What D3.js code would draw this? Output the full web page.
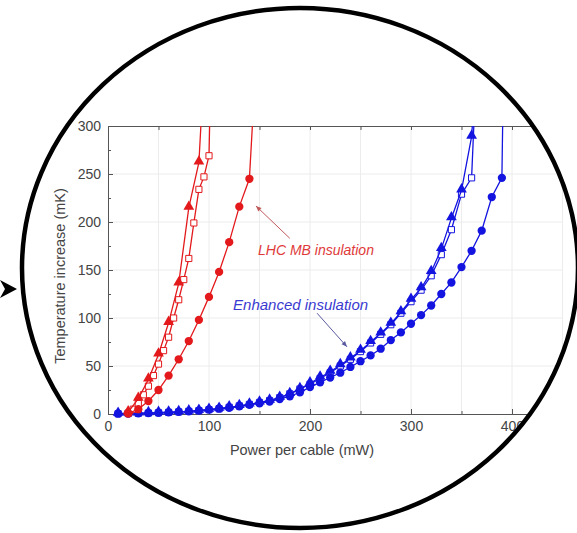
<!DOCTYPE html>
<html>
<head>
<meta charset="utf-8">
<script src="https://d3js.org/d3.v7.min.js"></script>
<style>
body { margin: 0; background: #fff; }
svg { display: block; font-family: "Liberation Sans", Arial, sans-serif; }
.axis path, .axis line { stroke: #555; }
.axis text { fill: #444; font-size: 14px; font-family: "Liberation Sans", Arial, sans-serif; }
.grid line { stroke: #ececec; }
.title { fill: #444; font-size: 14.5px; }
</style>
</head>
<body>
<script>

// LHC MB insulation (red)
var redTriX = [20, 30, 40, 50, 60, 70, 80, 90, 93];
var redTriY = [2, 16, 36, 62, 95, 136, 215, 262, 320];
var redSqX = [20, 25, 30, 35, 40, 45, 50, 55, 60, 65, 70, 75, 80, 85, 90, 95, 100, 101];
var redSqY = [1, 5, 11, 20, 29, 40, 52, 66, 80, 100, 119, 140, 162, 199, 234, 247, 269, 320];
var redCirX = [20, 30, 40, 50, 60, 70, 80, 90, 100, 110, 120, 130, 140, 144];
var redCirY = [0.5, 5, 13.5, 25, 40, 57, 76, 98, 122, 148, 179, 216, 245, 320];

// Enhanced insulation (blue)
var blueTriX = [10, 20, 30, 40, 50, 60, 70, 80, 90, 100, 110, 120, 130, 140, 150, 160, 170, 180, 190,
  200, 210, 220, 230, 240, 250, 260, 270, 280, 290, 300, 310, 320, 330, 340, 350, 360, 362];
var blueTriY = [0.3, 0.5, 0.7, 1, 1.3, 1.7, 2.2, 2.8, 3.5, 4.5, 5.5, 7, 8.5, 10, 12, 14, 17, 21, 26,
  32, 38, 44, 51, 58, 66, 75, 84, 94, 106, 119, 131, 148, 172, 204, 233, 289, 320];
var blueSqX = [10, 20, 30, 40, 50, 60, 70, 80, 90, 100, 110, 120, 130, 140, 150, 160, 170, 180, 190,
  200, 210, 220, 230, 240, 250, 260, 270, 280, 290, 300, 310, 320, 330, 340, 350, 360, 363];
var blueSqY = [0.3, 0.5, 0.7, 1, 1.3, 1.7, 2.2, 2.8, 3.5, 4.5, 5.5, 7, 8.5, 10, 12, 14, 17, 21, 26,
  31, 37, 43, 50, 57, 65, 74, 83, 93, 105, 117, 129, 144, 166, 192, 229, 246, 320];
var blueCirX = [10, 20, 30, 40, 50, 60, 70, 80, 90, 100, 110, 120, 130, 140, 150, 160, 170, 180, 190,
  200, 210, 220, 230, 240, 250, 260, 270, 280, 290, 300, 310, 320, 330, 340, 350, 360, 370, 380, 390, 391];
var blueCirY = [0.3, 0.5, 0.7, 1, 1.3, 1.7, 2.2, 2.8, 3.5, 4.5, 5.5, 6.5, 8, 9.5, 11, 13, 15.5, 18.5, 22.5,
  28, 33, 38, 43, 49, 55, 61, 68, 77, 85, 94, 103, 113, 125, 137, 153, 170, 191, 226, 246, 320];

var xMajor = [0, 100, 200, 300, 400];
var xMinor = [50, 150, 250, 350, 450];
var yMajor = [0, 50, 100, 150, 200, 250, 300];
var yMinor = [25, 75, 125, 175, 225, 275];

var red = "#e3191c", blue = "#1414e0";

var W = 577, H = 533;
var svg = d3.select("body").append("svg")
    .attr("width", W)
    .attr("height", H);

svg.append("rect").attr("width", W).attr("height", H).attr("fill", "#fff");

var ell = {cx: 300, cy: 268, rx: 278, ry: 260};

var defs = svg.append("defs");
defs.append("clipPath").attr("id", "ellClip")
  .append("ellipse")
    .attr("cx", ell.cx).attr("cy", ell.cy).attr("rx", ell.rx).attr("ry", ell.ry);

var xScale = d3.scaleLinear().domain([0, 450]).range([108, 108 + 4.545 * 100]);
var yScale = d3.scaleLinear().domain([0, 300]).range([414, 126]);

defs.append("clipPath").attr("id", "plotClip")
  .append("rect")
    .attr("x", xScale(0)).attr("y", yScale(300))
    .attr("width", xScale(450) - xScale(0))
    .attr("height", yScale(-20) - yScale(300));

var g = svg.append("g").attr("clip-path", "url(#ellClip)");

// grid
var grid = g.append("g").attr("class", "grid");
grid.selectAll(".gx").data(d3.range(50, 451, 50)).enter().append("line")
    .attr("x1", function(d) { return xScale(d); })
    .attr("x2", function(d) { return xScale(d); })
    .attr("y1", yScale(0)).attr("y2", yScale(300));
grid.selectAll(".gy").data(d3.range(50, 300, 50)).enter().append("line")
    .attr("x1", xScale(0)).attr("x2", xScale(450))
    .attr("y1", function(d) { return yScale(d); })
    .attr("y2", function(d) { return yScale(d); });

// axes
g.append("g").attr("class", "axis")
    .attr("transform", "translate(0," + yScale(0) + ")")
    .call(d3.axisBottom(xScale).tickValues(xMajor).tickSizeInner(-5).tickSizeOuter(0).tickPadding(7));
g.append("g").attr("class", "axis")
    .attr("transform", "translate(0," + yScale(0) + ")")
    .call(d3.axisBottom(xScale).tickValues(xMinor).tickSizeInner(-3).tickSizeOuter(0).tickFormat(""));
g.append("g").attr("class", "axis")
    .attr("transform", "translate(0," + yScale(300) + ")")
    .call(d3.axisTop(xScale).tickValues(xMajor.concat(xMinor)).tickSizeInner(-4).tickSizeOuter(0).tickFormat(""));
g.append("g").attr("class", "axis")
    .attr("transform", "translate(" + xScale(0) + ",0)")
    .call(d3.axisLeft(yScale).tickValues(yMajor).tickSizeInner(-5).tickSizeOuter(0).tickPadding(7));
g.append("g").attr("class", "axis")
    .attr("transform", "translate(" + xScale(0) + ",0)")
    .call(d3.axisLeft(yScale).tickValues(yMinor).tickSizeInner(-3).tickSizeOuter(0).tickFormat(""));

g.append("text").attr("class", "title")
    .attr("x", 302).attr("y", 455)
    .attr("text-anchor", "middle")
    .text("Power per cable (mW)");
g.append("text").attr("class", "title")
    .attr("transform", "translate(65,276) rotate(-90)")
    .attr("text-anchor", "middle")
    .text("Temperature increase (mK)");

// series
var plot = g.append("g").attr("clip-path", "url(#plotClip)");
var line = d3.line()
    .x(function(d) { return xScale(d[0]); })
    .y(function(d) { return yScale(d[1]); });

function series(xs, ys, color, shape) {
  var pts = xs.map(function(x, i) { return [x, ys[i]]; });
  plot.append("path").datum(pts)
      .attr("d", line)
      .attr("fill", "none")
      .attr("stroke", color)
      .attr("stroke-width", 1.3);
  var sym = d3.symbol()
      .type(shape == "tri" ? d3.symbolTriangle : shape == "sq" ? d3.symbolSquare : d3.symbolCircle)
      .size(shape == "tri" ? 50 : shape == "sq" ? 38 : 54);
  plot.selectAll(null).data(pts.filter(function(d) { return d[1] <= 300; }))
    .enter().append("path")
      .attr("d", sym)
      .attr("transform", function(d) { return "translate(" + xScale(d[0]) + "," + (yScale(d[1]) - (shape == "tri" ? 1 : 0)) + ")"; })
      .attr("fill", shape == "sq" ? "#fff" : color)
      .attr("stroke", color)
      .attr("stroke-width", shape == "sq" ? 1 : 0);
}

series(blueSqX, blueSqY, blue, "sq");
series(blueTriX, blueTriY, blue, "tri");
series(blueCirX, blueCirY, blue, "cir");
series(redSqX, redSqY, red, "sq");
series(redTriX, redTriY, red, "tri");
series(redCirX, redCirY, red, "cir");

// annotations
function note(txt, tx, ty, size, color, ax1, ay1, ax2, ay2, acolor) {
  g.append("text")
      .attr("x", xScale(tx)).attr("y", yScale(ty))
      .attr("font-size", size).attr("font-style", "italic")
      .attr("fill", color)
      .text(txt);
  var x1 = xScale(ax1), y1 = yScale(ay1), x2 = xScale(ax2), y2 = yScale(ay2);
  var a = Math.atan2(y2 - y1, x2 - x1);
  g.append("line")
      .attr("x1", x1).attr("y1", y1).attr("x2", x2).attr("y2", y2)
      .attr("stroke", acolor).attr("stroke-width", 1);
  var hl = 6, hw = 0.4;
  g.append("path")
      .attr("d", "M" + x2 + "," + y2 +
        "L" + (x2 - hl * Math.cos(a - hw)) + "," + (y2 - hl * Math.sin(a - hw)) +
        "L" + (x2 - hl * Math.cos(a + hw)) + "," + (y2 - hl * Math.sin(a + hw)) + "Z")
      .attr("fill", acolor);
}

note("LHC MB insulation", 148.5, 165.6, "14px", "#e03a3a", 180, 183, 146.5, 216.7, "#c05a5a");
note("Enhanced insulation", 123.8, 108, "15px", "#3a3ad0", 207, 105, 236.6, 70, "#5a5aa0");

// circle outline and pointer
svg.append("ellipse")
    .attr("cx", ell.cx).attr("cy", ell.cy).attr("rx", ell.rx).attr("ry", ell.ry)
    .attr("fill", "none").attr("stroke", "#000").attr("stroke-width", 4.5);

svg.append("path")
    .attr("d", "M0,280L17,289L0,298L5,289Z")
    .attr("fill", "#000");

</script>
</body>
</html>
